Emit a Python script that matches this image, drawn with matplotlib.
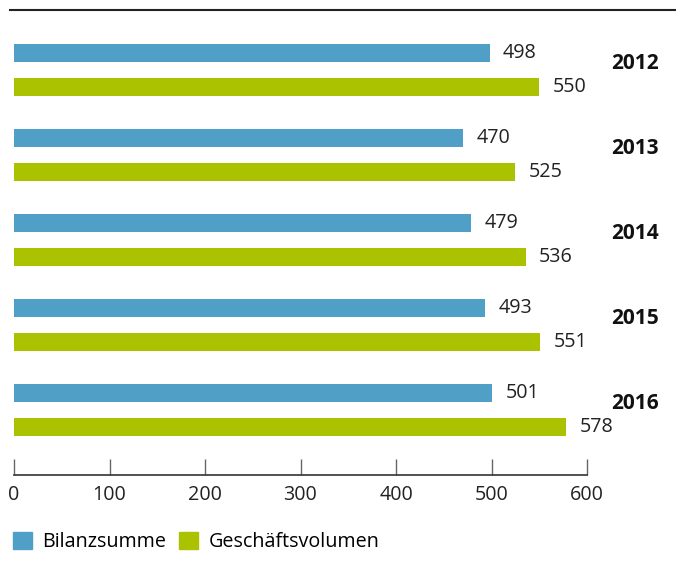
import matplotlib.pyplot as plt
import matplotlib.transforms as mtransforms
from matplotlib.patches import Patch
from matplotlib.lines import Line2D
import numpy as np

plt.rcParams['font.family'] = ['Open Sans', 'DejaVu Sans']

years = ['2012', '2013', '2014', '2015', '2016']
bilanzsumme = [498, 470, 479, 493, 501]
geschaeftsvolumen = [550, 525, 536, 551, 578]
xticks = [0, 100, 200, 300, 400, 500, 600]

blue = '#4f9fc6'
green = '#abc200'
fs = 14.2

W, H = 676, 578
fig = plt.figure(figsize=(W / 100, H / 100), dpi=100)

# axes: x=0 at px 14, x=600 at px 587, axis line at px 475, top at px 30
ax = fig.add_axes([14 / W, 1 - 475 / H, (587 - 14) / W, (475 - 30) / H])

pos = np.arange(len(years))
bh = 18 / 85
ax.barh(pos - 0.2, bilanzsumme, height=bh, color=blue)
ax.barh(pos + 0.2, geschaeftsvolumen, height=bh, color=green)

ax.set_xlim(0, 600)
ax.set_ylim((475 - 70) / 85, (30 - 70) / 85)

for i in range(len(years)):
    ax.text(bilanzsumme[i] + 14, pos[i] - 0.2, str(bilanzsumme[i]),
            va='center', ha='left', fontsize=fs, color='#222222')
    ax.text(geschaeftsvolumen[i] + 14, pos[i] + 0.2, str(geschaeftsvolumen[i]),
            va='center', ha='left', fontsize=fs, color='#222222')

trans = mtransforms.blended_transform_factory(fig.transFigure, ax.transData)
for i, y in enumerate(years):
    ax.text(611 / W, pos[i] - 0.075, y, transform=trans, ha='left', va='center',
            fontsize=15, fontweight='bold', color='#111111')

for s in ['top', 'right', 'left']:
    ax.spines[s].set_visible(False)
ax.spines['bottom'].set_color('#333333')
ax.spines['bottom'].set_linewidth(1.2)
ax.set_yticks([])
ax.set_xticks(xticks)
ax.tick_params(axis='x', direction='in', length=11.5, width=1, color='#666666',
               labelsize=fs, labelcolor='#222222', pad=7)

# top rule
fig.add_artist(Line2D([10 / W, 1], [1 - 10 / H, 1 - 10 / H], color='#222222',
                      linewidth=1.5, transform=fig.transFigure))

handles = [Patch(color=blue, label='Bilanzsumme'),
           Patch(color=green, label='Geschäftsvolumen')]
fig.legend(handles=handles, loc='center left', bbox_to_anchor=(13 / W, 1 - 542 / H),
           frameon=False, ncol=2, fontsize=fs, handlelength=0.95, handleheight=0.95,
           handletextpad=0.55, columnspacing=0.65, borderpad=0, borderaxespad=0)

fig.savefig('out.png', dpi=100)
